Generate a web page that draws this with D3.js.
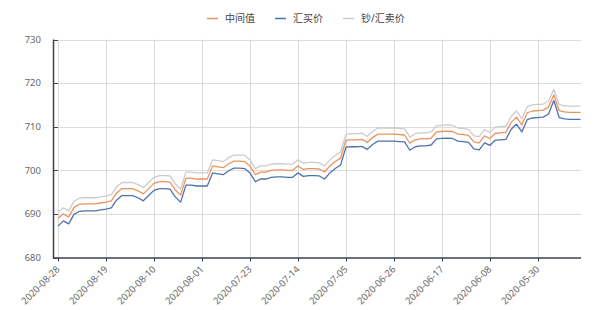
<!DOCTYPE html>
<html>
<head>
<meta charset="utf-8">
<script src="https://cdn.jsdelivr.net/npm/d3@7"></script>
<style>
  body { margin: 0; background: #fff; }
  svg text { font-family: "Noto Sans", "Noto Sans CJK SC", sans-serif; }
</style>
</head>
<body>
<svg id="chart" width="600" height="310"></svg>
<script>
const dates = [
  "2020-08-28","2020-08-27","2020-08-26","2020-08-25","2020-08-24","2020-08-23","2020-08-22","2020-08-21","2020-08-20","2020-08-19",
  "2020-08-18","2020-08-17","2020-08-16","2020-08-15","2020-08-14","2020-08-13","2020-08-12","2020-08-11","2020-08-10","2020-08-09",
  "2020-08-08","2020-08-07","2020-08-06","2020-08-05","2020-08-04","2020-08-03","2020-08-02","2020-08-01","2020-07-31","2020-07-30",
  "2020-07-29","2020-07-28","2020-07-27","2020-07-26","2020-07-25","2020-07-24","2020-07-23","2020-07-22","2020-07-21","2020-07-20",
  "2020-07-19","2020-07-18","2020-07-17","2020-07-16","2020-07-15","2020-07-14","2020-07-13","2020-07-12","2020-07-11","2020-07-10",
  "2020-07-09","2020-07-08","2020-07-07","2020-07-06","2020-07-05","2020-07-04","2020-07-03","2020-07-02","2020-07-01","2020-06-30",
  "2020-06-29","2020-06-28","2020-06-27","2020-06-26","2020-06-25","2020-06-24","2020-06-23","2020-06-22","2020-06-21","2020-06-20",
  "2020-06-19","2020-06-18","2020-06-17","2020-06-16","2020-06-15","2020-06-14","2020-06-13","2020-06-12","2020-06-11","2020-06-10",
  "2020-06-09","2020-06-08","2020-06-07","2020-06-06","2020-06-05","2020-06-04","2020-06-03","2020-06-02","2020-06-01","2020-05-31",
  "2020-05-30","2020-05-29","2020-05-28","2020-05-27","2020-05-26","2020-05-25","2020-05-24","2020-05-23","2020-05-22"
];

// 中间值
const midValues = [
  689.0,690.0,689.3,691.5,692.2,692.3,692.3,692.3,692.5,692.7,
  693.0,694.8,695.8,695.8,695.8,695.3,694.6,695.8,697.0,697.4,
  697.4,697.3,695.5,694.3,698.2,698.2,698.0,698.0,698.0,701.0,
  700.8,700.6,701.5,702.1,702.1,702.0,701.0,699.0,699.6,699.6,
  700.0,700.1,700.1,700.0,700.0,701.0,700.2,700.4,700.4,700.3,
  699.6,701.0,702.0,702.8,706.9,707.0,707.0,707.1,706.4,707.5,
  708.3,708.3,708.3,708.3,708.2,708.1,706.2,707.0,707.2,707.2,
  707.4,708.8,708.9,709.0,708.9,708.3,708.2,708.0,706.5,706.3,
  707.9,707.3,708.5,708.6,708.7,711.0,712.2,710.4,713.2,713.6,
  713.7,713.8,714.5,717.3,713.7,713.4,713.3,713.3,713.3
];

// 汇买价
const buyValues = [
  687.2,688.4,687.7,689.9,690.6,690.7,690.7,690.7,690.9,691.1,
  691.4,693.2,694.2,694.2,694.2,693.7,693.0,694.2,695.4,695.8,
  695.8,695.7,693.9,692.7,696.6,696.6,696.4,696.4,696.4,699.4,
  699.2,699.0,699.9,700.5,700.5,700.4,699.4,697.4,698.0,698.0,
  698.4,698.5,698.5,698.4,698.4,699.4,698.6,698.8,698.8,698.7,
  698.0,699.4,700.4,701.2,705.3,705.4,705.4,705.5,704.8,705.9,
  706.7,706.7,706.7,706.7,706.6,706.5,704.6,705.4,705.6,705.6,
  705.8,707.2,707.3,707.4,707.3,706.7,706.6,706.4,704.9,704.7,
  706.3,705.7,706.9,707.0,707.1,709.4,710.6,708.8,711.6,712.0,
  712.1,712.2,712.9,716.0,712.1,711.8,711.7,711.7,711.7
];

// 钞/汇卖价
const sellValues = [
  690.4,691.4,690.7,692.9,693.6,693.7,693.7,693.7,693.9,694.1,
  694.4,696.2,697.2,697.2,697.2,696.7,696.0,697.2,698.4,698.8,
  698.8,698.7,696.9,695.7,699.6,699.6,699.4,699.4,699.4,702.4,
  702.2,702.0,702.9,703.5,703.5,703.4,702.4,700.4,701.0,701.0,
  701.4,701.5,701.5,701.4,701.4,702.4,701.6,701.8,701.8,701.7,
  701.0,702.4,703.4,704.2,708.3,708.4,708.4,708.5,707.8,708.9,
  709.7,709.7,709.7,709.7,709.6,709.5,707.6,708.4,708.6,708.6,
  708.8,710.2,710.3,710.4,710.3,709.7,709.6,709.4,707.9,707.7,
  709.3,708.7,709.9,710.0,710.1,712.4,713.6,711.8,714.6,715.0,
  715.1,715.2,715.9,718.6,715.1,714.8,714.7,714.7,714.7
];

const yTicks = [680, 690, 700, 710, 720, 730];
const xTickLabels = ["2020-08-28","2020-08-19","2020-08-10","2020-08-01","2020-07-23",
  "2020-07-14","2020-07-05","2020-06-26","2020-06-17","2020-06-08","2020-05-30"];

const series = [
  { name: "中间值", values: midValues, color: "#f0915c" },
  { name: "汇买价", values: buyValues, color: "#4f72ad" },
  { name: "钞/汇卖价", values: sellValues, color: "#cccccc" }
];

const svg = d3.select("#chart");
const axisLeftX = 53, axisRightX = 581;
const plotTop = 39.5, plotBottom = 257.5;

const xScale = d3.scalePoint()
  .domain(dates)
  .range([58, 580.5]);

const yScale = d3.scaleLinear()
  .domain([680, 730])
  .range([plotBottom, plotTop]);

// grid
const grid = svg.append("g");
grid.selectAll("line.h")
  .data(yTicks.filter(t => t > 680))
  .enter().append("line")
  .attr("x1", axisLeftX).attr("x2", axisRightX)
  .attr("y1", d => Math.round(yScale(d)) + 0.5)
  .attr("y2", d => Math.round(yScale(d)) + 0.5)
  .attr("stroke", "#dcdcdc");

grid.selectAll("line.v")
  .data(xTickLabels)
  .enter().append("line")
  .attr("x1", d => Math.round(xScale(d)) + 0.5)
  .attr("x2", d => Math.round(xScale(d)) + 0.5)
  .attr("y1", plotTop).attr("y2", plotBottom)
  .attr("stroke", "#dcdcdc");

// lines
const lineGen = values => d3.line()
  .x((d, i) => xScale(dates[i]))
  .y(d => yScale(d))(values);

series.slice().reverse().forEach(s => {
  svg.append("path")
    .attr("d", lineGen(s.values))
    .attr("fill", "none")
    .attr("stroke", s.color)
    .attr("stroke-width", 1.3)
    .attr("stroke-linejoin", "round");
});

// axes
const axisColor = "#3b4151";
svg.append("line")
  .attr("x1", axisLeftX + 0.5).attr("x2", axisLeftX + 0.5)
  .attr("y1", plotTop).attr("y2", plotBottom + 1)
  .attr("stroke", axisColor).attr("stroke-width", 1.5);
svg.append("line")
  .attr("x1", axisLeftX).attr("x2", axisRightX)
  .attr("y1", plotBottom + 0.5).attr("y2", plotBottom + 0.5)
  .attr("stroke", axisColor).attr("stroke-width", 1.5);

svg.selectAll("line.ytick")
  .data(yTicks)
  .enter().append("line")
  .attr("x1", axisLeftX).attr("x2", axisLeftX + 5)
  .attr("y1", d => Math.round(yScale(d)) + 0.5)
  .attr("y2", d => Math.round(yScale(d)) + 0.5)
  .attr("stroke", axisColor);

svg.selectAll("line.xtick")
  .data(xTickLabels)
  .enter().append("line")
  .attr("x1", d => Math.round(xScale(d)) + 0.5)
  .attr("x2", d => Math.round(xScale(d)) + 0.5)
  .attr("y1", plotBottom).attr("y2", plotBottom + 4)
  .attr("stroke", axisColor);

svg.selectAll("text.ylabel")
  .data(yTicks)
  .enter().append("text")
  .attr("x", 41)
  .attr("y", d => yScale(d))
  .attr("dy", "0.35em")
  .attr("text-anchor", "end")
  .attr("fill", "#666")
  .style("font-size", "9.5px")
  .text(d => d);

svg.selectAll("text.xlabel")
  .data(xTickLabels)
  .enter().append("text")
  .attr("transform", d => `translate(${xScale(d)},${plotBottom + 10}) rotate(-45)`)
  .attr("dy", "0.35em")
  .attr("text-anchor", "end")
  .attr("fill", "#666")
  .style("font-size", "9.5px")
  .text(d => d);

// legend
const legend = svg.append("g");
let lx = 207;
series.forEach(s => {
  legend.append("line")
    .attr("x1", lx).attr("x2", lx + 11)
    .attr("y1", 18.5).attr("y2", 18.5)
    .attr("stroke", s.color).attr("stroke-width", 1.5);
  const t = legend.append("text")
    .attr("x", lx + 18)
    .attr("y", 18.5)
    .attr("dy", "0.35em")
    .attr("fill", "#444")
    .style("font-size", "10px")
    .text(s.name);
  lx += 18 + t.node().getComputedTextLength() + 20;
});
</script>
</body>
</html>
